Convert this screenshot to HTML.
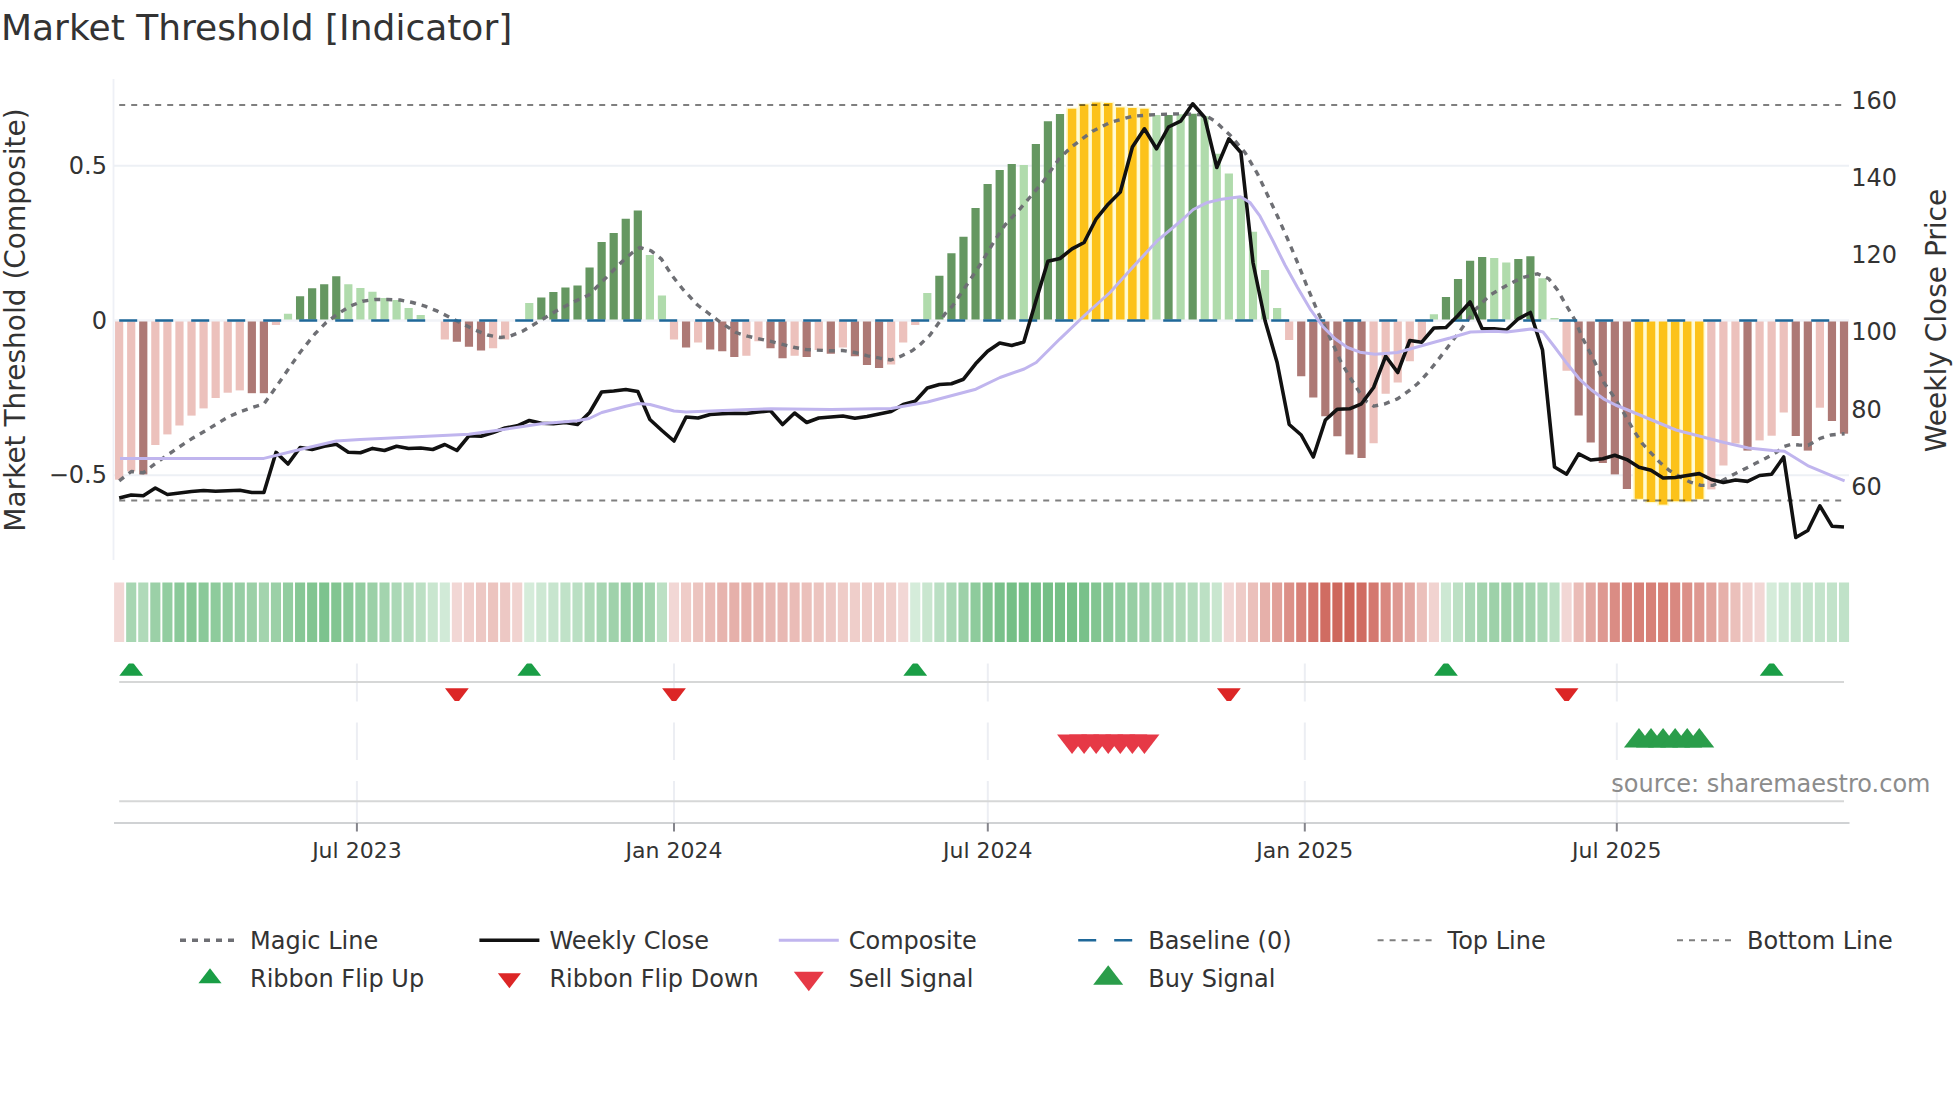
<!DOCTYPE html><html><head><meta charset="utf-8"><title>Market Threshold [Indicator]</title>
<style>html,body{margin:0;padding:0;background:#fff}svg{display:block}text{font-family:"DejaVu Sans","Liberation Sans",sans-serif;fill:#333}</style></head><body>
<svg width="1960" height="1102" viewBox="0 0 1960 1102">
<rect width="1960" height="1102" fill="#fff"/>
<defs><clipPath id="c1"><rect x="114" y="663.4" width="1736" height="37.7"/></clipPath></defs>
<text x="1" y="40" font-size="36">Market Threshold [Indicator]</text>
<line x1="114" x2="1849" y1="165.75" y2="165.75" stroke="#EDF0F5" stroke-width="2"/>
<line x1="114" x2="1849" y1="320.5" y2="320.5" stroke="#EDF0F5" stroke-width="2"/>
<line x1="114" x2="1849" y1="475.25" y2="475.25" stroke="#EDF0F5" stroke-width="2"/>
<line x1="113.5" x2="113.5" y1="79" y2="560" stroke="#EEF0F6" stroke-width="1.8"/>
<g shape-rendering="auto">
<rect x="115.05" y="320.50" width="8.2" height="159.20" fill="#ECC1BC"/>
<rect x="127.11" y="320.50" width="8.2" height="150.90" fill="#ECC1BC"/>
<rect x="139.17" y="320.50" width="8.2" height="153.90" fill="#AD7975"/>
<rect x="151.24" y="320.50" width="8.2" height="124.50" fill="#ECC1BC"/>
<rect x="163.30" y="320.50" width="8.2" height="113.90" fill="#ECC1BC"/>
<rect x="175.36" y="320.50" width="8.2" height="105.00" fill="#ECC1BC"/>
<rect x="187.42" y="320.50" width="8.2" height="95.10" fill="#ECC1BC"/>
<rect x="199.48" y="320.50" width="8.2" height="87.90" fill="#ECC1BC"/>
<rect x="211.55" y="320.50" width="8.2" height="77.50" fill="#ECC1BC"/>
<rect x="223.61" y="320.50" width="8.2" height="72.20" fill="#ECC1BC"/>
<rect x="235.67" y="320.50" width="8.2" height="69.90" fill="#ECC1BC"/>
<rect x="247.73" y="320.50" width="8.2" height="72.70" fill="#AD7975"/>
<rect x="259.79" y="320.50" width="8.2" height="72.70" fill="#AD7975"/>
<rect x="271.86" y="320.50" width="8.2" height="4.50" fill="#ECC1BC"/>
<rect x="283.92" y="313.75" width="8.2" height="6.75" fill="#B0DBAC"/>
<rect x="295.98" y="296.25" width="8.2" height="24.25" fill="#659761"/>
<rect x="308.04" y="288.25" width="8.2" height="32.25" fill="#659761"/>
<rect x="320.10" y="284.25" width="8.2" height="36.25" fill="#659761"/>
<rect x="332.17" y="276.25" width="8.2" height="44.25" fill="#659761"/>
<rect x="344.23" y="284.25" width="8.2" height="36.25" fill="#B0DBAC"/>
<rect x="356.29" y="288.00" width="8.2" height="32.50" fill="#B0DBAC"/>
<rect x="368.35" y="291.75" width="8.2" height="28.75" fill="#B0DBAC"/>
<rect x="380.41" y="298.00" width="8.2" height="22.50" fill="#B0DBAC"/>
<rect x="392.48" y="300.00" width="8.2" height="20.50" fill="#B0DBAC"/>
<rect x="404.54" y="308.00" width="8.2" height="12.50" fill="#B0DBAC"/>
<rect x="416.60" y="315.00" width="8.2" height="5.50" fill="#B0DBAC"/>
<rect x="440.72" y="320.50" width="8.2" height="19.00" fill="#ECC1BC"/>
<rect x="452.79" y="320.50" width="8.2" height="21.25" fill="#AD7975"/>
<rect x="464.85" y="320.50" width="8.2" height="26.25" fill="#AD7975"/>
<rect x="476.91" y="320.50" width="8.2" height="30.00" fill="#AD7975"/>
<rect x="488.97" y="320.50" width="8.2" height="27.75" fill="#ECC1BC"/>
<rect x="501.03" y="320.50" width="8.2" height="19.00" fill="#ECC1BC"/>
<rect x="525.16" y="303.00" width="8.2" height="17.50" fill="#B0DBAC"/>
<rect x="537.22" y="297.50" width="8.2" height="23.00" fill="#659761"/>
<rect x="549.28" y="292.00" width="8.2" height="28.50" fill="#659761"/>
<rect x="561.34" y="287.50" width="8.2" height="33.00" fill="#659761"/>
<rect x="573.41" y="285.50" width="8.2" height="35.00" fill="#659761"/>
<rect x="585.47" y="267.50" width="8.2" height="53.00" fill="#659761"/>
<rect x="597.53" y="242.00" width="8.2" height="78.50" fill="#659761"/>
<rect x="609.59" y="233.00" width="8.2" height="87.50" fill="#659761"/>
<rect x="621.65" y="218.75" width="8.2" height="101.75" fill="#659761"/>
<rect x="633.72" y="210.50" width="8.2" height="110.00" fill="#659761"/>
<rect x="645.78" y="255.00" width="8.2" height="65.50" fill="#B0DBAC"/>
<rect x="657.84" y="295.50" width="8.2" height="25.00" fill="#B0DBAC"/>
<rect x="669.90" y="320.50" width="8.2" height="19.00" fill="#ECC1BC"/>
<rect x="681.96" y="320.50" width="8.2" height="27.00" fill="#AD7975"/>
<rect x="694.03" y="320.50" width="8.2" height="22.00" fill="#ECC1BC"/>
<rect x="706.09" y="320.50" width="8.2" height="29.00" fill="#AD7975"/>
<rect x="718.15" y="320.50" width="8.2" height="30.75" fill="#AD7975"/>
<rect x="730.21" y="320.50" width="8.2" height="36.50" fill="#AD7975"/>
<rect x="742.27" y="320.50" width="8.2" height="35.25" fill="#ECC1BC"/>
<rect x="754.34" y="320.50" width="8.2" height="20.75" fill="#ECC1BC"/>
<rect x="766.40" y="320.50" width="8.2" height="27.75" fill="#AD7975"/>
<rect x="778.46" y="320.50" width="8.2" height="37.75" fill="#AD7975"/>
<rect x="790.52" y="320.50" width="8.2" height="35.25" fill="#ECC1BC"/>
<rect x="802.58" y="320.50" width="8.2" height="36.50" fill="#AD7975"/>
<rect x="814.65" y="320.50" width="8.2" height="29.50" fill="#ECC1BC"/>
<rect x="826.71" y="320.50" width="8.2" height="33.25" fill="#AD7975"/>
<rect x="838.77" y="320.50" width="8.2" height="27.00" fill="#ECC1BC"/>
<rect x="850.83" y="320.50" width="8.2" height="35.75" fill="#AD7975"/>
<rect x="862.89" y="320.50" width="8.2" height="44.50" fill="#AD7975"/>
<rect x="874.96" y="320.50" width="8.2" height="47.50" fill="#AD7975"/>
<rect x="887.02" y="320.50" width="8.2" height="44.00" fill="#ECC1BC"/>
<rect x="899.08" y="320.50" width="8.2" height="22.00" fill="#ECC1BC"/>
<rect x="911.14" y="320.50" width="8.2" height="4.50" fill="#ECC1BC"/>
<rect x="923.20" y="293.00" width="8.2" height="27.50" fill="#B0DBAC"/>
<rect x="935.27" y="275.75" width="8.2" height="44.75" fill="#659761"/>
<rect x="947.33" y="253.25" width="8.2" height="67.25" fill="#659761"/>
<rect x="959.39" y="236.75" width="8.2" height="83.75" fill="#659761"/>
<rect x="971.45" y="208.00" width="8.2" height="112.50" fill="#659761"/>
<rect x="983.51" y="184.00" width="8.2" height="136.50" fill="#659761"/>
<rect x="995.58" y="170.00" width="8.2" height="150.50" fill="#659761"/>
<rect x="1007.64" y="164.00" width="8.2" height="156.50" fill="#659761"/>
<rect x="1019.70" y="165.00" width="8.2" height="155.50" fill="#B0DBAC"/>
<rect x="1031.76" y="144.00" width="8.2" height="176.50" fill="#659761"/>
<rect x="1043.82" y="121.25" width="8.2" height="199.25" fill="#659761"/>
<rect x="1055.89" y="114.00" width="8.2" height="206.50" fill="#659761"/>
<rect x="1066.00" y="107.55" width="12.1" height="212.95" fill="#FFFACF"/>
<rect x="1067.80" y="108.75" width="8.5" height="211.75" fill="#FCC21A"/>
<rect x="1078.06" y="103.30" width="12.1" height="217.20" fill="#FFFACF"/>
<rect x="1079.86" y="104.50" width="8.5" height="216.00" fill="#FCC21A"/>
<rect x="1090.12" y="101.30" width="12.1" height="219.20" fill="#FFFACF"/>
<rect x="1091.92" y="102.50" width="8.5" height="218.00" fill="#FCC21A"/>
<rect x="1102.18" y="101.80" width="12.1" height="218.70" fill="#FFFACF"/>
<rect x="1103.98" y="103.00" width="8.5" height="217.50" fill="#FCC21A"/>
<rect x="1114.25" y="106.30" width="12.1" height="214.20" fill="#FFFACF"/>
<rect x="1116.05" y="107.50" width="8.5" height="213.00" fill="#FCC21A"/>
<rect x="1126.31" y="106.80" width="12.1" height="213.70" fill="#FFFACF"/>
<rect x="1128.11" y="108.00" width="8.5" height="212.50" fill="#FCC21A"/>
<rect x="1138.37" y="107.55" width="12.1" height="212.95" fill="#FFFACF"/>
<rect x="1140.17" y="108.75" width="8.5" height="211.75" fill="#FCC21A"/>
<rect x="1152.38" y="115.00" width="8.2" height="205.50" fill="#B0DBAC"/>
<rect x="1164.44" y="115.00" width="8.2" height="205.50" fill="#659761"/>
<rect x="1176.51" y="114.25" width="8.2" height="206.25" fill="#B0DBAC"/>
<rect x="1188.57" y="113.75" width="8.2" height="206.75" fill="#659761"/>
<rect x="1200.63" y="116.25" width="8.2" height="204.25" fill="#B0DBAC"/>
<rect x="1212.69" y="153.75" width="8.2" height="166.75" fill="#B0DBAC"/>
<rect x="1224.75" y="173.50" width="8.2" height="147.00" fill="#B0DBAC"/>
<rect x="1236.82" y="196.25" width="8.2" height="124.25" fill="#B0DBAC"/>
<rect x="1248.88" y="231.75" width="8.2" height="88.75" fill="#B0DBAC"/>
<rect x="1260.94" y="270.00" width="8.2" height="50.50" fill="#B0DBAC"/>
<rect x="1273.00" y="308.00" width="8.2" height="12.50" fill="#B0DBAC"/>
<rect x="1285.06" y="320.50" width="8.2" height="19.50" fill="#ECC1BC"/>
<rect x="1297.13" y="320.50" width="8.2" height="55.75" fill="#AD7975"/>
<rect x="1309.19" y="320.50" width="8.2" height="77.00" fill="#AD7975"/>
<rect x="1321.25" y="320.50" width="8.2" height="95.75" fill="#AD7975"/>
<rect x="1333.31" y="320.50" width="8.2" height="115.75" fill="#AD7975"/>
<rect x="1345.37" y="320.50" width="8.2" height="134.00" fill="#AD7975"/>
<rect x="1357.44" y="320.50" width="8.2" height="137.50" fill="#AD7975"/>
<rect x="1369.50" y="320.50" width="8.2" height="122.75" fill="#ECC1BC"/>
<rect x="1381.56" y="320.50" width="8.2" height="73.25" fill="#ECC1BC"/>
<rect x="1393.62" y="320.50" width="8.2" height="62.00" fill="#ECC1BC"/>
<rect x="1405.68" y="320.50" width="8.2" height="40.75" fill="#ECC1BC"/>
<rect x="1417.75" y="320.50" width="8.2" height="19.50" fill="#ECC1BC"/>
<rect x="1429.81" y="314.25" width="8.2" height="6.25" fill="#B0DBAC"/>
<rect x="1441.87" y="297.00" width="8.2" height="23.50" fill="#659761"/>
<rect x="1453.93" y="279.00" width="8.2" height="41.50" fill="#659761"/>
<rect x="1465.99" y="260.75" width="8.2" height="59.75" fill="#659761"/>
<rect x="1478.06" y="257.00" width="8.2" height="63.50" fill="#659761"/>
<rect x="1490.12" y="258.00" width="8.2" height="62.50" fill="#B0DBAC"/>
<rect x="1502.18" y="262.50" width="8.2" height="58.00" fill="#B0DBAC"/>
<rect x="1514.24" y="259.00" width="8.2" height="61.50" fill="#659761"/>
<rect x="1526.30" y="256.25" width="8.2" height="64.25" fill="#659761"/>
<rect x="1538.37" y="278.25" width="8.2" height="42.25" fill="#B0DBAC"/>
<rect x="1550.43" y="318.00" width="8.2" height="2.50" fill="#B0DBAC"/>
<rect x="1562.49" y="320.50" width="8.2" height="50.25" fill="#ECC1BC"/>
<rect x="1574.55" y="320.50" width="8.2" height="95.00" fill="#AD7975"/>
<rect x="1586.61" y="320.50" width="8.2" height="122.00" fill="#AD7975"/>
<rect x="1598.68" y="320.50" width="8.2" height="142.50" fill="#AD7975"/>
<rect x="1610.74" y="320.50" width="8.2" height="153.90" fill="#AD7975"/>
<rect x="1622.80" y="320.50" width="8.2" height="168.50" fill="#AD7975"/>
<rect x="1632.91" y="320.50" width="12.1" height="179.50" fill="#FFFACF"/>
<rect x="1634.71" y="320.50" width="8.5" height="178.30" fill="#FCC21A"/>
<rect x="1644.97" y="320.50" width="12.1" height="182.70" fill="#FFFACF"/>
<rect x="1646.77" y="320.50" width="8.5" height="181.50" fill="#FCC21A"/>
<rect x="1657.04" y="320.50" width="12.1" height="185.30" fill="#FFFACF"/>
<rect x="1658.84" y="320.50" width="8.5" height="184.10" fill="#FCC21A"/>
<rect x="1669.10" y="320.50" width="12.1" height="181.90" fill="#FFFACF"/>
<rect x="1670.90" y="320.50" width="8.5" height="180.70" fill="#FCC21A"/>
<rect x="1681.16" y="320.50" width="12.1" height="182.00" fill="#FFFACF"/>
<rect x="1682.96" y="320.50" width="8.5" height="180.80" fill="#FCC21A"/>
<rect x="1693.22" y="320.50" width="12.1" height="179.60" fill="#FFFACF"/>
<rect x="1695.02" y="320.50" width="8.5" height="178.40" fill="#FCC21A"/>
<rect x="1707.23" y="320.50" width="8.2" height="168.90" fill="#ECC1BC"/>
<rect x="1719.30" y="320.50" width="8.2" height="145.00" fill="#ECC1BC"/>
<rect x="1731.36" y="320.50" width="8.2" height="123.00" fill="#ECC1BC"/>
<rect x="1743.42" y="320.50" width="8.2" height="130.10" fill="#AD7975"/>
<rect x="1755.48" y="320.50" width="8.2" height="119.90" fill="#ECC1BC"/>
<rect x="1767.54" y="320.50" width="8.2" height="115.20" fill="#ECC1BC"/>
<rect x="1779.61" y="320.50" width="8.2" height="92.00" fill="#ECC1BC"/>
<rect x="1791.67" y="320.50" width="8.2" height="115.50" fill="#AD7975"/>
<rect x="1803.73" y="320.50" width="8.2" height="130.10" fill="#AD7975"/>
<rect x="1815.79" y="320.50" width="8.2" height="87.20" fill="#ECC1BC"/>
<rect x="1827.85" y="320.50" width="8.2" height="100.50" fill="#AD7975"/>
<rect x="1839.92" y="320.50" width="8.2" height="113.20" fill="#AD7975"/>
</g>
<line x1="114" x2="1849" y1="320.6" y2="320.6" stroke="#F1F3F7" stroke-width="2"/>
<polyline points="119.2,480.8 131.3,471.5 143.3,472.8 155.4,463.5 167.5,455.0 179.5,446.8 191.6,438.8 203.7,431.8 215.7,424.5 227.8,417.2 239.9,411.8 251.9,407.7 264.0,403.8 276.1,387.0 288.1,369.5 300.0,352.5 315.0,333.8 326.2,322.5 336.2,315.0 350.0,306.2 362.5,301.2 375.0,299.5 387.5,299.5 400.0,300.0 412.5,302.5 425.0,306.2 437.5,311.2 450.0,317.5 462.5,323.8 475.0,330.0 487.5,335.0 500.0,337.5 510.0,336.2 522.5,331.2 535.0,323.8 547.5,316.2 560.0,308.8 572.5,302.5 588.8,295.0 605.0,278.8 622.5,261.2 632.5,252.5 640.0,247.5 651.2,250.8 661.2,258.8 672.5,276.2 682.5,288.8 697.5,305.0 707.5,312.5 720.0,322.0 736.0,332.5 747.5,336.2 770.0,341.2 795.0,347.5 806.0,349.5 830.0,350.8 842.5,350.5 855.0,352.5 867.5,355.8 880.0,358.2 891.0,360.0 901.0,356.2 912.5,350.5 921.0,343.8 930.0,335.0 940.0,321.2 945.0,313.8 952.5,306.0 965.0,287.5 980.0,265.0 995.0,240.0 1005.0,225.0 1020.0,208.8 1042.5,182.5 1060.0,157.5 1072.5,146.2 1092.5,131.2 1110.0,122.5 1132.5,116.2 1156.8,114.5 1180.8,113.8 1205.0,115.0 1215.0,121.2 1230.0,135.0 1245.0,152.5 1257.5,173.8 1267.5,195.0 1277.5,216.2 1287.5,238.8 1297.5,262.5 1307.5,287.5 1317.5,311.2 1327.5,332.5 1336.2,351.2 1340.0,360.0 1350.0,377.5 1358.8,391.2 1366.2,401.2 1373.8,406.2 1385.0,403.8 1397.5,398.8 1410.0,390.0 1417.5,383.8 1426.2,374.5 1435.0,363.8 1447.5,347.5 1462.5,327.5 1475.0,310.0 1490.0,295.0 1507.5,285.0 1522.5,277.5 1537.5,273.8 1548.8,278.8 1557.5,290.0 1567.5,307.5 1575.0,320.0 1582.5,338.0 1590.0,352.5 1595.0,362.5 1604.0,382.7 1613.3,395.9 1623.9,413.2 1634.5,431.7 1642.4,443.7 1650.4,452.3 1659.7,462.2 1669.0,470.2 1679.6,476.8 1690.2,482.1 1700.8,485.4 1712.7,485.4 1723.3,480.1 1734.0,474.2 1744.6,468.9 1755.2,463.6 1765.8,458.2 1776.4,452.3 1784.4,446.3 1791.0,444.3 1799.0,445.0 1808.2,445.3 1812.2,443.0 1820.2,438.4 1830.8,435.0 1844.6,433.7" fill="none" stroke="#6E6F74" stroke-width="3.4" stroke-dasharray="6,6" stroke-linejoin="round"/>
<line x1="119.2" x2="1844.0" y1="320.5" y2="320.5" stroke="#1F6899" stroke-width="2.6" stroke-dasharray="18,18"/>
<line x1="119.2" x2="1844.0" y1="105" y2="105" stroke="#000" stroke-opacity="0.5" stroke-width="2" stroke-dasharray="6,6"/>
<line x1="119.2" x2="1844.0" y1="500.4" y2="500.4" stroke="#000" stroke-opacity="0.5" stroke-width="2" stroke-dasharray="6,6"/>
<polyline points="119.2,498.0 131.2,495.0 143.3,495.8 155.3,488.0 167.4,494.5 179.5,493.0 191.5,491.5 203.6,490.5 215.6,491.2 227.7,490.8 239.8,490.2 251.8,492.5 263.9,492.5 276.0,452.4 288.0,464.0 300.1,447.5 312.1,449.4 324.2,446.2 336.3,444.2 348.3,452.2 360.4,452.7 372.5,448.4 384.5,450.5 396.6,446.2 408.6,448.5 420.7,448.0 432.8,449.5 444.8,444.5 456.9,450.5 468.9,435.8 481.0,436.2 493.1,432.5 505.1,428.0 517.2,425.8 529.3,420.5 541.3,423.2 553.4,423.8 565.4,422.5 577.5,424.5 589.6,412.5 601.6,392.0 613.7,391.0 625.8,389.5 637.8,391.5 649.9,419.5 661.9,430.5 674.0,441.0 686.1,417.0 698.1,418.0 710.2,414.5 722.2,413.8 734.3,413.2 746.4,413.5 758.4,412.0 770.5,410.8 782.6,424.5 794.6,413.0 806.7,422.5 818.7,418.0 830.8,417.0 842.9,416.0 854.9,418.2 867.0,416.5 879.1,414.0 891.1,411.5 903.2,404.5 915.2,401.2 927.3,388.0 939.4,384.5 951.4,383.8 963.5,379.2 975.6,363.8 987.6,351.2 999.7,343.0 1011.7,345.5 1023.8,342.0 1035.9,301.0 1047.9,261.2 1060.0,258.5 1072.0,248.8 1084.1,242.5 1096.2,218.8 1108.2,204.2 1120.3,192.0 1132.4,147.0 1144.4,128.8 1156.5,148.8 1168.5,127.0 1180.6,121.2 1192.7,103.8 1204.7,117.5 1216.8,167.5 1228.9,138.8 1240.9,152.5 1253.0,262.5 1265.0,320.5 1277.1,362.5 1289.2,424.5 1301.2,435.0 1313.3,457.0 1325.4,420.0 1337.4,409.2 1349.5,408.8 1361.5,403.8 1373.6,387.5 1385.7,356.2 1397.7,372.5 1409.8,340.5 1421.8,342.2 1433.9,328.0 1446.0,327.5 1458.0,315.5 1470.1,302.0 1482.2,328.8 1494.2,328.8 1506.3,330.0 1518.3,318.8 1530.4,312.5 1542.5,350.0 1554.5,467.0 1566.6,474.2 1578.7,453.8 1590.7,460.0 1602.8,458.8 1614.8,455.3 1626.9,459.6 1639.0,467.3 1651.0,470.3 1663.1,478.0 1675.1,477.5 1687.2,475.5 1699.3,473.6 1711.3,479.5 1723.4,482.4 1735.5,480.0 1747.5,481.4 1759.6,475.5 1771.6,474.2 1783.7,457.0 1795.8,537.5 1807.8,530.5 1819.9,505.8 1832.0,526.2 1844.0,527.0" fill="none" stroke="#111" stroke-width="3.6" stroke-linejoin="round"/>
<polyline points="120.0,458.6 263.9,458.4 300.0,449.5 336.2,441.0 360.0,439.6 468.8,434.2 505.0,429.2 541.2,423.8 577.2,420.8 589.2,418.5 601.8,412.5 625.8,406.2 638.0,403.5 650.0,404.5 674.0,411.0 686.2,412.0 722.5,410.5 770.8,408.8 831.0,409.5 891.2,408.5 903.5,406.2 927.5,402.0 975.8,389.2 1000.0,377.5 1024.2,369.0 1036.2,362.5 1060.0,338.8 1085.0,315.0 1110.0,292.5 1132.5,267.5 1156.8,241.2 1180.8,221.0 1193.3,209.5 1206.5,202.8 1219.8,199.6 1229.0,198.2 1240.5,196.8 1250.0,202.5 1260.0,216.2 1272.5,240.0 1285.0,265.0 1297.5,287.5 1310.0,308.8 1322.5,326.2 1335.0,338.8 1347.5,347.5 1360.0,352.2 1375.0,354.2 1397.5,352.5 1410.0,349.0 1435.0,342.0 1450.0,338.0 1470.5,332.0 1494.8,331.2 1506.8,332.0 1531.0,329.0 1543.0,332.0 1555.0,347.5 1567.2,363.8 1579.2,378.8 1591.5,390.0 1603.5,398.8 1615.5,405.0 1627.8,410.0 1651.8,420.0 1676.0,430.0 1700.0,436.2 1724.2,442.5 1748.2,448.0 1772.5,450.5 1784.5,451.2 1808.8,466.2 1832.8,476.2 1844.6,480.8" fill="none" stroke="#C0B5EE" stroke-width="3" stroke-linejoin="round"/>
<text x="107" y="173.8" font-size="24" text-anchor="end">0.5</text>
<text x="107" y="328.6" font-size="24" text-anchor="end">0</text>
<text x="107" y="483.4" font-size="24" text-anchor="end">−0.5</text>
<text x="1851.3" y="108.9" font-size="24">160</text>
<text x="1851.3" y="186.1" font-size="24">140</text>
<text x="1851.3" y="263.2" font-size="24">120</text>
<text x="1851.3" y="340.4" font-size="24">100</text>
<text x="1851.3" y="417.6" font-size="24">80</text>
<text x="1851.3" y="494.7" font-size="24">60</text>
<text transform="translate(25,320) rotate(-90)" font-size="28" text-anchor="middle">Market Threshold (Composite)</text>
<text transform="translate(1945.5,320.5) rotate(-90)" font-size="28" text-anchor="middle">Weekly Close Price</text>
<rect x="114.10" y="582.5" width="10.1" height="59.5" fill="#F2D7D5"/>
<rect x="126.16" y="582.5" width="10.1" height="59.5" fill="#A7D6B2"/>
<rect x="138.22" y="582.5" width="10.1" height="59.5" fill="#B0DAB9"/>
<rect x="150.29" y="582.5" width="10.1" height="59.5" fill="#9BD0A7"/>
<rect x="162.35" y="582.5" width="10.1" height="59.5" fill="#92CDA0"/>
<rect x="174.41" y="582.5" width="10.1" height="59.5" fill="#8AC999"/>
<rect x="186.47" y="582.5" width="10.1" height="59.5" fill="#86C795"/>
<rect x="198.53" y="582.5" width="10.1" height="59.5" fill="#8AC999"/>
<rect x="210.60" y="582.5" width="10.1" height="59.5" fill="#8ECB9C"/>
<rect x="222.66" y="582.5" width="10.1" height="59.5" fill="#92CDA0"/>
<rect x="234.72" y="582.5" width="10.1" height="59.5" fill="#96CEA4"/>
<rect x="246.78" y="582.5" width="10.1" height="59.5" fill="#9BD0A7"/>
<rect x="258.84" y="582.5" width="10.1" height="59.5" fill="#A3D4AE"/>
<rect x="270.91" y="582.5" width="10.1" height="59.5" fill="#9BD0A7"/>
<rect x="282.97" y="582.5" width="10.1" height="59.5" fill="#92CDA0"/>
<rect x="295.03" y="582.5" width="10.1" height="59.5" fill="#86C795"/>
<rect x="307.09" y="582.5" width="10.1" height="59.5" fill="#82C591"/>
<rect x="319.15" y="582.5" width="10.1" height="59.5" fill="#7DC38E"/>
<rect x="331.22" y="582.5" width="10.1" height="59.5" fill="#82C591"/>
<rect x="343.28" y="582.5" width="10.1" height="59.5" fill="#8AC999"/>
<rect x="355.34" y="582.5" width="10.1" height="59.5" fill="#92CDA0"/>
<rect x="367.40" y="582.5" width="10.1" height="59.5" fill="#9BD0A7"/>
<rect x="379.46" y="582.5" width="10.1" height="59.5" fill="#A3D4AE"/>
<rect x="391.53" y="582.5" width="10.1" height="59.5" fill="#ABD8B6"/>
<rect x="403.59" y="582.5" width="10.1" height="59.5" fill="#B4DCBD"/>
<rect x="415.65" y="582.5" width="10.1" height="59.5" fill="#BCE0C4"/>
<rect x="427.71" y="582.5" width="10.1" height="59.5" fill="#C9E6CF"/>
<rect x="439.77" y="582.5" width="10.1" height="59.5" fill="#D1EAD7"/>
<rect x="451.84" y="582.5" width="10.1" height="59.5" fill="#F2D7D5"/>
<rect x="463.90" y="582.5" width="10.1" height="59.5" fill="#F0CFCC"/>
<rect x="475.96" y="582.5" width="10.1" height="59.5" fill="#EDC8C4"/>
<rect x="488.02" y="582.5" width="10.1" height="59.5" fill="#ECC4BF"/>
<rect x="500.08" y="582.5" width="10.1" height="59.5" fill="#EDC8C4"/>
<rect x="512.15" y="582.5" width="10.1" height="59.5" fill="#F1D3D0"/>
<rect x="524.21" y="582.5" width="10.1" height="59.5" fill="#D5ECDA"/>
<rect x="536.27" y="582.5" width="10.1" height="59.5" fill="#CDE8D3"/>
<rect x="548.33" y="582.5" width="10.1" height="59.5" fill="#C7E5CE"/>
<rect x="560.39" y="582.5" width="10.1" height="59.5" fill="#C0E2C8"/>
<rect x="572.46" y="582.5" width="10.1" height="59.5" fill="#BADFC3"/>
<rect x="584.52" y="582.5" width="10.1" height="59.5" fill="#B0DAB9"/>
<rect x="596.58" y="582.5" width="10.1" height="59.5" fill="#A7D6B2"/>
<rect x="608.64" y="582.5" width="10.1" height="59.5" fill="#9FD2AB"/>
<rect x="620.70" y="582.5" width="10.1" height="59.5" fill="#96CEA4"/>
<rect x="632.77" y="582.5" width="10.1" height="59.5" fill="#96CEA4"/>
<rect x="644.83" y="582.5" width="10.1" height="59.5" fill="#A3D4AE"/>
<rect x="656.89" y="582.5" width="10.1" height="59.5" fill="#BCE0C4"/>
<rect x="668.95" y="582.5" width="10.1" height="59.5" fill="#F2D7D5"/>
<rect x="681.01" y="582.5" width="10.1" height="59.5" fill="#EFCCC8"/>
<rect x="693.08" y="582.5" width="10.1" height="59.5" fill="#ECC4BF"/>
<rect x="705.14" y="582.5" width="10.1" height="59.5" fill="#EABCB7"/>
<rect x="717.20" y="582.5" width="10.1" height="59.5" fill="#E7B4AE"/>
<rect x="729.26" y="582.5" width="10.1" height="59.5" fill="#E6B0AA"/>
<rect x="741.32" y="582.5" width="10.1" height="59.5" fill="#E6B0AA"/>
<rect x="753.39" y="582.5" width="10.1" height="59.5" fill="#E7B4AE"/>
<rect x="765.45" y="582.5" width="10.1" height="59.5" fill="#E8B8B3"/>
<rect x="777.51" y="582.5" width="10.1" height="59.5" fill="#E8B8B3"/>
<rect x="789.57" y="582.5" width="10.1" height="59.5" fill="#EABCB7"/>
<rect x="801.63" y="582.5" width="10.1" height="59.5" fill="#EBC0BB"/>
<rect x="813.70" y="582.5" width="10.1" height="59.5" fill="#ECC4BF"/>
<rect x="825.76" y="582.5" width="10.1" height="59.5" fill="#EDC8C4"/>
<rect x="837.82" y="582.5" width="10.1" height="59.5" fill="#EFCCC8"/>
<rect x="849.88" y="582.5" width="10.1" height="59.5" fill="#EFCECA"/>
<rect x="861.94" y="582.5" width="10.1" height="59.5" fill="#EFCCC8"/>
<rect x="874.01" y="582.5" width="10.1" height="59.5" fill="#EECAC6"/>
<rect x="886.07" y="582.5" width="10.1" height="59.5" fill="#EFCECA"/>
<rect x="898.13" y="582.5" width="10.1" height="59.5" fill="#F2D7D5"/>
<rect x="910.19" y="582.5" width="10.1" height="59.5" fill="#D5ECDA"/>
<rect x="922.25" y="582.5" width="10.1" height="59.5" fill="#C9E6CF"/>
<rect x="934.32" y="582.5" width="10.1" height="59.5" fill="#BADFC3"/>
<rect x="946.38" y="582.5" width="10.1" height="59.5" fill="#ABD8B6"/>
<rect x="958.44" y="582.5" width="10.1" height="59.5" fill="#9DD1A9"/>
<rect x="970.50" y="582.5" width="10.1" height="59.5" fill="#8ECB9C"/>
<rect x="982.56" y="582.5" width="10.1" height="59.5" fill="#82C591"/>
<rect x="994.63" y="582.5" width="10.1" height="59.5" fill="#79C18A"/>
<rect x="1006.69" y="582.5" width="10.1" height="59.5" fill="#75BF86"/>
<rect x="1018.75" y="582.5" width="10.1" height="59.5" fill="#75BF86"/>
<rect x="1030.81" y="582.5" width="10.1" height="59.5" fill="#75BF86"/>
<rect x="1042.87" y="582.5" width="10.1" height="59.5" fill="#75BF86"/>
<rect x="1054.94" y="582.5" width="10.1" height="59.5" fill="#75BF86"/>
<rect x="1067.00" y="582.5" width="10.1" height="59.5" fill="#75BF86"/>
<rect x="1079.06" y="582.5" width="10.1" height="59.5" fill="#79C18A"/>
<rect x="1091.12" y="582.5" width="10.1" height="59.5" fill="#82C591"/>
<rect x="1103.18" y="582.5" width="10.1" height="59.5" fill="#8AC999"/>
<rect x="1115.25" y="582.5" width="10.1" height="59.5" fill="#92CDA0"/>
<rect x="1127.31" y="582.5" width="10.1" height="59.5" fill="#96CEA4"/>
<rect x="1139.37" y="582.5" width="10.1" height="59.5" fill="#9FD2AB"/>
<rect x="1151.43" y="582.5" width="10.1" height="59.5" fill="#A3D4AE"/>
<rect x="1163.49" y="582.5" width="10.1" height="59.5" fill="#ABD8B6"/>
<rect x="1175.56" y="582.5" width="10.1" height="59.5" fill="#B0DAB9"/>
<rect x="1187.62" y="582.5" width="10.1" height="59.5" fill="#B4DCBD"/>
<rect x="1199.68" y="582.5" width="10.1" height="59.5" fill="#BCE0C4"/>
<rect x="1211.74" y="582.5" width="10.1" height="59.5" fill="#C9E6CF"/>
<rect x="1223.80" y="582.5" width="10.1" height="59.5" fill="#F2D7D5"/>
<rect x="1235.87" y="582.5" width="10.1" height="59.5" fill="#EFCCC8"/>
<rect x="1247.93" y="582.5" width="10.1" height="59.5" fill="#EBC0BB"/>
<rect x="1259.99" y="582.5" width="10.1" height="59.5" fill="#E6B0AA"/>
<rect x="1272.05" y="582.5" width="10.1" height="59.5" fill="#E1A099"/>
<rect x="1284.11" y="582.5" width="10.1" height="59.5" fill="#DC9088"/>
<rect x="1296.18" y="582.5" width="10.1" height="59.5" fill="#D78077"/>
<rect x="1308.24" y="582.5" width="10.1" height="59.5" fill="#D3746B"/>
<rect x="1320.30" y="582.5" width="10.1" height="59.5" fill="#D06C62"/>
<rect x="1332.36" y="582.5" width="10.1" height="59.5" fill="#CE675C"/>
<rect x="1344.42" y="582.5" width="10.1" height="59.5" fill="#CE655A"/>
<rect x="1356.49" y="582.5" width="10.1" height="59.5" fill="#D06C62"/>
<rect x="1368.55" y="582.5" width="10.1" height="59.5" fill="#D4786F"/>
<rect x="1380.61" y="582.5" width="10.1" height="59.5" fill="#D98880"/>
<rect x="1392.67" y="582.5" width="10.1" height="59.5" fill="#DE9891"/>
<rect x="1404.73" y="582.5" width="10.1" height="59.5" fill="#E3A8A2"/>
<rect x="1416.80" y="582.5" width="10.1" height="59.5" fill="#EBC0BB"/>
<rect x="1428.86" y="582.5" width="10.1" height="59.5" fill="#F1D3D0"/>
<rect x="1440.92" y="582.5" width="10.1" height="59.5" fill="#CDE8D3"/>
<rect x="1452.98" y="582.5" width="10.1" height="59.5" fill="#BCE0C4"/>
<rect x="1465.04" y="582.5" width="10.1" height="59.5" fill="#ABD8B6"/>
<rect x="1477.11" y="582.5" width="10.1" height="59.5" fill="#A3D4AE"/>
<rect x="1489.17" y="582.5" width="10.1" height="59.5" fill="#9DD1A9"/>
<rect x="1501.23" y="582.5" width="10.1" height="59.5" fill="#9BD0A7"/>
<rect x="1513.29" y="582.5" width="10.1" height="59.5" fill="#9FD2AB"/>
<rect x="1525.35" y="582.5" width="10.1" height="59.5" fill="#A3D4AE"/>
<rect x="1537.42" y="582.5" width="10.1" height="59.5" fill="#ABD8B6"/>
<rect x="1549.48" y="582.5" width="10.1" height="59.5" fill="#BCE0C4"/>
<rect x="1561.54" y="582.5" width="10.1" height="59.5" fill="#F2D7D5"/>
<rect x="1573.60" y="582.5" width="10.1" height="59.5" fill="#EABCB7"/>
<rect x="1585.66" y="582.5" width="10.1" height="59.5" fill="#E3A8A2"/>
<rect x="1597.73" y="582.5" width="10.1" height="59.5" fill="#DE9891"/>
<rect x="1609.79" y="582.5" width="10.1" height="59.5" fill="#DA8C84"/>
<rect x="1621.85" y="582.5" width="10.1" height="59.5" fill="#D8847C"/>
<rect x="1633.91" y="582.5" width="10.1" height="59.5" fill="#D78077"/>
<rect x="1645.97" y="582.5" width="10.1" height="59.5" fill="#D78077"/>
<rect x="1658.04" y="582.5" width="10.1" height="59.5" fill="#D78077"/>
<rect x="1670.10" y="582.5" width="10.1" height="59.5" fill="#D98880"/>
<rect x="1682.16" y="582.5" width="10.1" height="59.5" fill="#DC9088"/>
<rect x="1694.22" y="582.5" width="10.1" height="59.5" fill="#DE9891"/>
<rect x="1706.28" y="582.5" width="10.1" height="59.5" fill="#E2A49D"/>
<rect x="1718.35" y="582.5" width="10.1" height="59.5" fill="#E6B0AA"/>
<rect x="1730.41" y="582.5" width="10.1" height="59.5" fill="#EBC0BB"/>
<rect x="1742.47" y="582.5" width="10.1" height="59.5" fill="#F0CFCC"/>
<rect x="1754.53" y="582.5" width="10.1" height="59.5" fill="#F2D7D5"/>
<rect x="1766.59" y="582.5" width="10.1" height="59.5" fill="#D5ECDA"/>
<rect x="1778.66" y="582.5" width="10.1" height="59.5" fill="#CDE8D3"/>
<rect x="1790.72" y="582.5" width="10.1" height="59.5" fill="#C7E5CE"/>
<rect x="1802.78" y="582.5" width="10.1" height="59.5" fill="#C4E4CC"/>
<rect x="1814.84" y="582.5" width="10.1" height="59.5" fill="#C4E4CC"/>
<rect x="1826.90" y="582.5" width="10.1" height="59.5" fill="#C2E3CA"/>
<rect x="1838.97" y="582.5" width="10.1" height="59.5" fill="#C0E2C8"/>
<line x1="356.9" x2="356.9" y1="663.5" y2="701.5" stroke="#ECEEF3" stroke-width="2"/>
<line x1="356.9" x2="356.9" y1="722.5" y2="760" stroke="#ECEEF3" stroke-width="2"/>
<line x1="356.9" x2="356.9" y1="781" y2="823" stroke="#ECEEF3" stroke-width="2"/>
<line x1="674" x2="674" y1="663.5" y2="701.5" stroke="#ECEEF3" stroke-width="2"/>
<line x1="674" x2="674" y1="722.5" y2="760" stroke="#ECEEF3" stroke-width="2"/>
<line x1="674" x2="674" y1="781" y2="823" stroke="#ECEEF3" stroke-width="2"/>
<line x1="987.8" x2="987.8" y1="663.5" y2="701.5" stroke="#ECEEF3" stroke-width="2"/>
<line x1="987.8" x2="987.8" y1="722.5" y2="760" stroke="#ECEEF3" stroke-width="2"/>
<line x1="987.8" x2="987.8" y1="781" y2="823" stroke="#ECEEF3" stroke-width="2"/>
<line x1="1304.8" x2="1304.8" y1="663.5" y2="701.5" stroke="#ECEEF3" stroke-width="2"/>
<line x1="1304.8" x2="1304.8" y1="722.5" y2="760" stroke="#ECEEF3" stroke-width="2"/>
<line x1="1304.8" x2="1304.8" y1="781" y2="823" stroke="#ECEEF3" stroke-width="2"/>
<line x1="1616.8" x2="1616.8" y1="663.5" y2="701.5" stroke="#ECEEF3" stroke-width="2"/>
<line x1="1616.8" x2="1616.8" y1="722.5" y2="760" stroke="#ECEEF3" stroke-width="2"/>
<line x1="1616.8" x2="1616.8" y1="781" y2="823" stroke="#ECEEF3" stroke-width="2"/>
<line x1="119.2" x2="1844.0" y1="682" y2="682" stroke="#D6D7D7" stroke-width="2"/>
<line x1="119.2" x2="1844.0" y1="801.3" y2="801.3" stroke="#D6D7D7" stroke-width="2"/>
<line x1="114" x2="1849.5" y1="823" y2="823" stroke="#D0D2D4" stroke-width="2"/>
<line x1="356.9" x2="356.9" y1="823" y2="831.5" stroke="#85858C" stroke-width="2"/>
<text x="356.9" y="858" font-size="22" text-anchor="middle">Jul 2023</text>
<line x1="674" x2="674" y1="823" y2="831.5" stroke="#85858C" stroke-width="2"/>
<text x="674" y="858" font-size="22" text-anchor="middle">Jan 2024</text>
<line x1="987.8" x2="987.8" y1="823" y2="831.5" stroke="#85858C" stroke-width="2"/>
<text x="987.8" y="858" font-size="22" text-anchor="middle">Jul 2024</text>
<line x1="1304.8" x2="1304.8" y1="823" y2="831.5" stroke="#85858C" stroke-width="2"/>
<text x="1304.8" y="858" font-size="22" text-anchor="middle">Jan 2025</text>
<line x1="1616.8" x2="1616.8" y1="823" y2="831.5" stroke="#85858C" stroke-width="2"/>
<text x="1616.8" y="858" font-size="22" text-anchor="middle">Jul 2025</text>
<g clip-path="url(#c1)">
<path d="M119.32,675.80H143.11L131.21,660.35Z" fill="#1A9E46"/>
<path d="M517.36,675.80H541.15L529.26,660.35Z" fill="#1A9E46"/>
<path d="M903.35,675.80H927.14L915.24,660.35Z" fill="#1A9E46"/>
<path d="M1434.08,675.80H1457.86L1445.97,660.35Z" fill="#1A9E46"/>
<path d="M1759.75,675.80H1783.54L1771.64,660.35Z" fill="#1A9E46"/>
<path d="M444.99,688.35H468.78L456.89,703.80Z" fill="#DC2626"/>
<path d="M662.11,688.35H685.90L674.00,703.80Z" fill="#DC2626"/>
<path d="M1216.96,688.35H1240.75L1228.85,703.80Z" fill="#DC2626"/>
<path d="M1554.70,688.35H1578.48L1566.59,703.80Z" fill="#DC2626"/>
</g>
<path d="M1057.04,734.50H1087.06L1072.05,754.00Z" fill="#E63946"/>
<path d="M1069.10,734.50H1099.12L1084.11,754.00Z" fill="#E63946"/>
<path d="M1081.16,734.50H1111.18L1096.17,754.00Z" fill="#E63946"/>
<path d="M1093.22,734.50H1123.25L1108.23,754.00Z" fill="#E63946"/>
<path d="M1105.28,734.50H1135.31L1120.30,754.00Z" fill="#E63946"/>
<path d="M1117.35,734.50H1147.37L1132.36,754.00Z" fill="#E63946"/>
<path d="M1129.41,734.50H1159.43L1144.42,754.00Z" fill="#E63946"/>
<path d="M1623.95,747.50H1653.97L1638.96,728.00Z" fill="#2A9D4A"/>
<path d="M1636.01,747.50H1666.04L1651.02,728.00Z" fill="#2A9D4A"/>
<path d="M1648.07,747.50H1678.10L1663.09,728.00Z" fill="#2A9D4A"/>
<path d="M1660.14,747.50H1690.16L1675.15,728.00Z" fill="#2A9D4A"/>
<path d="M1672.20,747.50H1702.22L1687.21,728.00Z" fill="#2A9D4A"/>
<path d="M1684.26,747.50H1714.28L1699.27,728.00Z" fill="#2A9D4A"/>
<text x="1930.5" y="791.5" font-size="24" text-anchor="end" style="fill:#8C8C8C">source: sharemaestro.com</text>
<line x1="180.0" x2="240.0" y1="940.3" y2="940.3" stroke="#6E6F74" stroke-width="3.4" stroke-dasharray="6,6"/>
<text x="250.0" y="949.0" font-size="24">Magic Line</text>
<line x1="479.4" x2="539.4" y1="940.3" y2="940.3" stroke="#111" stroke-width="3.6"/>
<text x="549.4" y="949.0" font-size="24">Weekly Close</text>
<line x1="778.8" x2="838.8" y1="940.3" y2="940.3" stroke="#C0B5EE" stroke-width="3"/>
<text x="848.8" y="949.0" font-size="24">Composite</text>
<line x1="1078.2" x2="1138.2" y1="940.3" y2="940.3" stroke="#1F6899" stroke-width="2.6" stroke-dasharray="18,18"/>
<text x="1148.2" y="949.0" font-size="24">Baseline (0)</text>
<line x1="1377.6" x2="1437.6" y1="940.3" y2="940.3" stroke="#000" stroke-opacity="0.5" stroke-width="2" stroke-dasharray="6,6"/>
<text x="1447.6" y="949.0" font-size="24">Top Line</text>
<line x1="1677.0" x2="1737.0" y1="940.3" y2="940.3" stroke="#000" stroke-opacity="0.5" stroke-width="2" stroke-dasharray="6,6"/>
<text x="1747.0" y="949.0" font-size="24">Bottom Line</text>
<path d="M198.45,983.20H221.55L210.00,968.20Z" fill="#1A9E46"/>
<text x="250.0" y="986.9" font-size="24">Ribbon Flip Up</text>
<path d="M497.85,973.20H520.95L509.40,988.20Z" fill="#DC2626"/>
<text x="549.4" y="986.9" font-size="24">Ribbon Flip Down</text>
<path d="M793.79,971.70H823.81L808.80,991.20Z" fill="#E63946"/>
<text x="848.8" y="986.9" font-size="24">Sell Signal</text>
<path d="M1093.19,984.70H1123.21L1108.20,965.20Z" fill="#2A9D4A"/>
<text x="1148.2" y="986.9" font-size="24">Buy Signal</text>
</svg></body></html>
